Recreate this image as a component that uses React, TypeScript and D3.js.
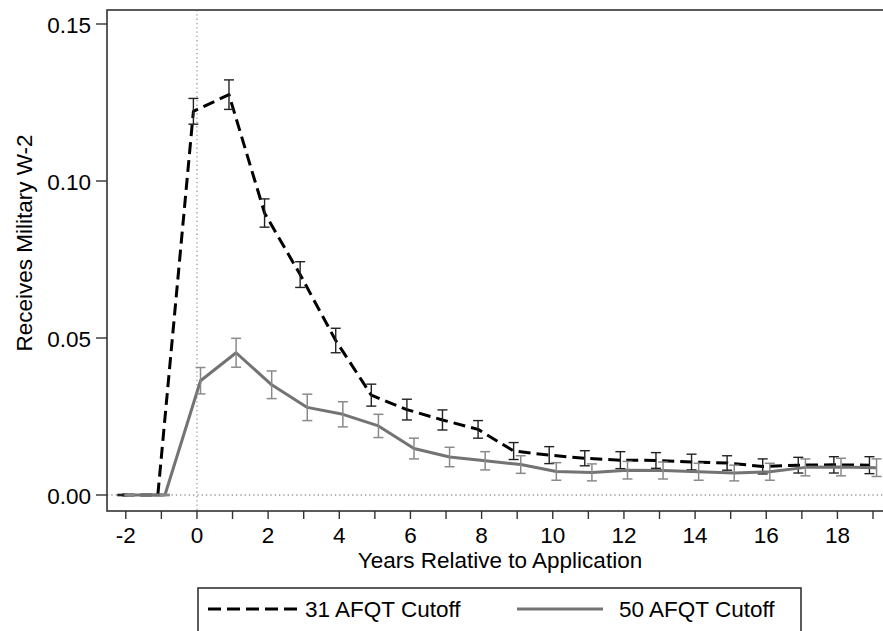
import React from "react";
import * as d3 from "d3";

const years = [-2, -1, 0, 1, 2, 3, 4, 5, 6, 7, 8, 9, 10, 11, 12, 13, 14, 15, 16, 17, 18, 19];
const cutoff31 = [0, 0, 0.1222, 0.1275, 0.0898, 0.0702, 0.0492, 0.0318, 0.0272, 0.0239, 0.0209, 0.014, 0.0127, 0.0117, 0.0111, 0.011, 0.0105, 0.0102, 0.0091, 0.0095, 0.0096, 0.0095];
const cutoff31Err = [0.0002, 0.0002, 0.0041, 0.0047, 0.0045, 0.0041, 0.0039, 0.0035, 0.0033, 0.0032, 0.0028, 0.0027, 0.0027, 0.0024, 0.0027, 0.0025, 0.0025, 0.0023, 0.0024, 0.0025, 0.0026, 0.0027];
const cutoff50 = [0, 0, 0.0364, 0.0453, 0.0351, 0.0279, 0.0257, 0.022, 0.0148, 0.0121, 0.0109, 0.0097, 0.0075, 0.0072, 0.0079, 0.0078, 0.0074, 0.007, 0.0074, 0.0088, 0.0089, 0.0087];
const cutoff50Err = [0.0002, 0.0002, 0.0042, 0.0046, 0.0044, 0.0042, 0.004, 0.0037, 0.0033, 0.0031, 0.0029, 0.0028, 0.0028, 0.0027, 0.0028, 0.0027, 0.0027, 0.0025, 0.0027, 0.0027, 0.0028, 0.0028];
const yTicks = [0, 0.05, 0.1, 0.15];
const xTickLabels = [-2, 0, 2, 4, 6, 8, 10, 12, 14, 16, 18];
const seriesNames = ["31 AFQT Cutoff", "50 AFQT Cutoff"];

const FONT = "'Liberation Sans', Arial, Helvetica, sans-serif";

export default function App() {
  const W = 883, H = 631;
  const frameL = 107, frameT = 10, frameB = 511;
  const x = d3.scaleLinear().domain([-2, 19]).range([125.8, 873]);
  const y = d3.scaleLinear().domain([0, 0.15]).range([495, 24]);
  const off = 0.1;

  const series = [
    { vals: cutoff31, err: cutoff31Err, dx: -off, color: "#000", width: 3, dash: "12,6", ciColor: "#222", ciW: 1.4 },
    { vals: cutoff50, err: cutoff50Err, dx: off, color: "#737373", width: 3, dash: null, ciColor: "#8a8a8a", ciW: 1.5 },
  ];

  const fs = 22.5;

  return (
    <svg width={W} height={H} style={{ position: "absolute", left: 0, top: 0, display: "block", background: "#fff" }} fontFamily={FONT}>
      <rect x={0} y={0} width={W} height={H} fill="#fff" />
      {/* reference lines */}
      <line x1={x(0)} x2={x(0)} y1={frameT} y2={frameB} stroke="#999" strokeWidth={1.3} strokeDasharray="1.3,3" />
      <line x1={frameL} x2={W} y1={y(0)} y2={y(0)} stroke="#999" strokeWidth={1.3} strokeDasharray="1.3,3" />

      {/* series */}
      {series.map((s, si) => {
        const line = d3.line<number>().x((_, i) => x(years[i] + s.dx)).y((v) => y(v));
        return (
          <g key={si}>
            <path d={line(s.vals) || ""} fill="none" stroke={s.color} strokeWidth={s.width} strokeDasharray={s.dash || undefined} strokeLinejoin="round" />
            {s.vals.map((v, i) => {
              const cx = x(years[i] + s.dx);
              const y1 = y(v + s.err[i]);
              const y2 = y(v - s.err[i]);
              return (
                <g key={i} stroke={s.ciColor} strokeWidth={s.ciW}>
                  <line x1={cx} x2={cx} y1={y1} y2={y2} />
                  <line x1={cx - 5} x2={cx + 5} y1={y1} y2={y1} />
                  <line x1={cx - 5} x2={cx + 5} y1={y2} y2={y2} />
                </g>
              );
            })}
          </g>
        );
      })}

      {/* frame */}
      <rect x={frameL} y={frameT} width={900} height={frameB - frameT} fill="none" stroke="#333" strokeWidth={1.6} />

      {/* y axis */}
      {yTicks.map((t) => (
        <g key={t}>
          <line x1={96} x2={frameL} y1={y(t)} y2={y(t)} stroke="#333" strokeWidth={1.4} />
          <text x={91} y={y(t)} dy="0.39em" textAnchor="end" fontSize={fs} fill="#000">{d3.format(".2f")(t)}</text>
        </g>
      ))}
      <text transform={`translate(31.5,243) rotate(-90)`} textAnchor="middle" fontSize={fs} fill="#000">Receives Military W-2</text>

      {/* x axis */}
      {years.map((t) => (
        <line key={t} x1={x(t)} x2={x(t)} y1={frameB} y2={frameB + 8} stroke="#333" strokeWidth={1.4} />
      ))}
      {xTickLabels.map((t) => (
        <text key={t} x={x(t)} y={543} textAnchor="middle" fontSize={fs} fill="#000">{t}</text>
      ))}
      <text x={500} y={568} textAnchor="middle" fontSize={fs} fill="#000">Years Relative to Application</text>

      {/* legend */}
      <rect x={198} y={588} width={603} height={70} fill="#fff" stroke="#333" strokeWidth={1.6} />
      <line x1={208} x2={297} y1={609} y2={609} stroke="#000" strokeWidth={3} strokeDasharray="13,6" />
      <text x={305} y={617} fontSize={fs} fill="#000">{seriesNames[0]}</text>
      <line x1={517} x2={603} y1={609} y2={609} stroke="#737373" strokeWidth={3} />
      <text x={619} y={617} fontSize={fs} fill="#000">{seriesNames[1]}</text>
    </svg>
  );
}
